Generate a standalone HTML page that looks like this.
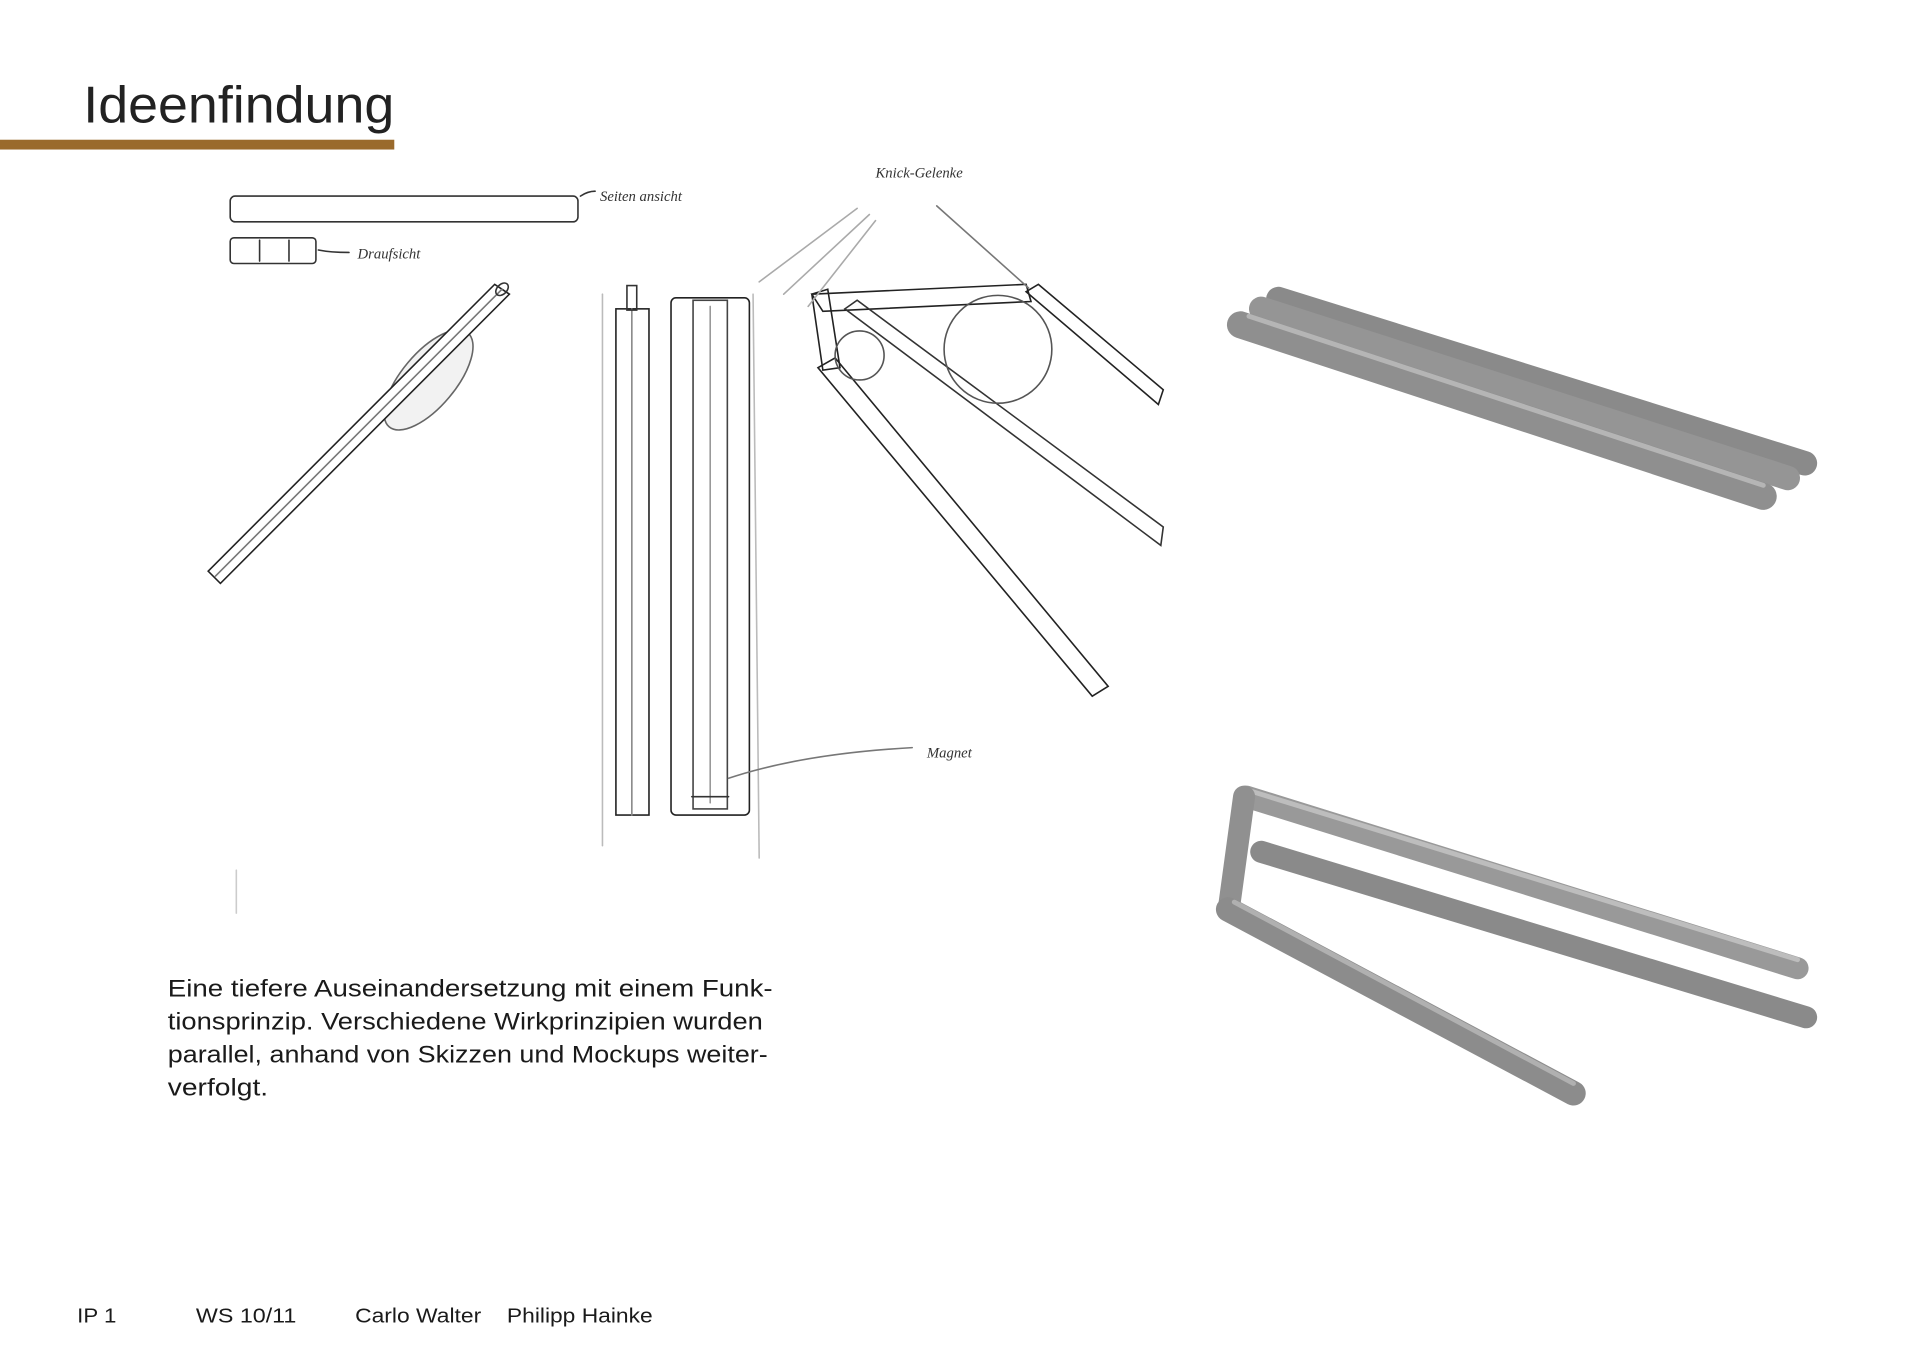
<!DOCTYPE html>
<html><head><meta charset="utf-8"><style>
html,body{margin:0;padding:0;background:#fff;width:1920px;height:1358px;overflow:hidden}
svg{display:block}
</style></head><body>
<svg width="1920" height="1358" viewBox="0 0 1568 1108" preserveAspectRatio="none" xmlns="http://www.w3.org/2000/svg">
<rect width="1568" height="1108" fill="#fff"/>
<text x="68" y="100" font-family="Liberation Sans, sans-serif" font-size="42" fill="#222" textLength="254" lengthAdjust="spacingAndGlyphs">Ideenfindung</text>
<rect x="0" y="114" width="322" height="8" fill="#9a6a2c"/>
<g fill="none" stroke="#333" stroke-width="1.3" stroke-linecap="round">
<rect x="188" y="160" width="284" height="21" rx="4"/>
<rect x="188" y="194" width="70" height="21" rx="3"/>
<line x1="212" y1="196" x2="212" y2="213"/><line x1="236" y1="196" x2="236" y2="213"/>
<path d="M474 160 q6 -4 12 -4"/>
<path d="M260 204 q10 2 25 2"/>
<ellipse cx="350" cy="310" rx="22" ry="50" transform="rotate(40 350 310)" fill="#f2f2f2" stroke="#666"/>
<polygon points="170,466 404,232 416,240 180,476" fill="#fff" stroke="#222"/>
<line x1="176" y1="470" x2="410" y2="236" stroke="#777"/>
<ellipse cx="410" cy="236" rx="6" ry="4" transform="rotate(-45 410 236)"/>
<rect x="503" y="252" width="27" height="413" stroke="#222"/>
<line x1="516" y1="252" x2="516" y2="665" stroke="#888"/>
<rect x="512" y="233" width="8" height="20"/>
<rect x="548" y="243" width="64" height="422" rx="4" stroke="#222"/>
<rect x="566" y="245" width="28" height="415" stroke="#444"/>
<line x1="580" y1="250" x2="580" y2="655" stroke="#999"/>
<line x1="565" y1="650" x2="595" y2="650"/>
<line x1="492" y1="240" x2="492" y2="690" stroke="#bbb"/>
<line x1="615" y1="240" x2="620" y2="700" stroke="#bbb"/>
<polygon points="663,240 838,232 842,246 672,254" stroke="#222"/>
<polygon points="663,240 676,236 686,300 672,302" stroke="#222"/>
<polygon points="668,300 682,292 905,560 892,568" stroke="#222"/>
<polygon points="838,238 848,232 950,318 946,330" stroke="#222"/>
<polygon points="690,252 700,245 950,430 948,445" stroke="#333"/>
<circle cx="815" cy="285" r="44" stroke="#555"/>
<circle cx="702" cy="290" r="20" stroke="#555"/>
<path d="M620 230 L700 170 M640 240 L710 175 M660 250 L715 180" stroke="#aaa"/>
<path d="M765 168 L840 235" stroke="#777"/>
<path d="M595 635 q60 -20 150 -25" stroke="#777"/>
<line x1="193" y1="710" x2="193" y2="745" stroke="#ccc"/>
</g>
<g font-family="Liberation Serif, serif" font-style="italic" font-size="12" fill="#333">
<text x="490" y="164">Seiten ansicht</text>
<text x="292" y="211">Draufsicht</text>
<text x="715" y="145">Knick-Gelenke</text>
<text x="757" y="618">Magnet</text>
</g>
<g font-family="Liberation Sans, sans-serif" font-size="19.5" fill="#1a1a1a">
<text x="137" y="813" textLength="494" lengthAdjust="spacingAndGlyphs">Eine tiefere Auseinandersetzung mit einem Funk-</text>
<text x="137" y="840" textLength="486" lengthAdjust="spacingAndGlyphs">tionsprinzip. Verschiedene Wirkprinzipien wurden</text>
<text x="137" y="867" textLength="490" lengthAdjust="spacingAndGlyphs">parallel, anhand von Skizzen und Mockups weiter-</text>
<text x="137" y="894" textLength="82" lengthAdjust="spacingAndGlyphs">verfolgt.</text>
</g>
<g stroke-linecap="round" fill="none">
<line x1="1044" y1="244" x2="1474" y2="378" stroke="#8a8a8a" stroke-width="20"/>
<line x1="1030" y1="252" x2="1460" y2="390" stroke="#959595" stroke-width="20"/>
<line x1="1013" y1="265" x2="1440" y2="405" stroke="#8f8f8f" stroke-width="22"/>
<line x1="1020" y1="258" x2="1440" y2="396" stroke="#b5b5b5" stroke-width="4"/>
<line x1="1018" y1="650" x2="1468" y2="790" stroke="#999" stroke-width="18"/>
<line x1="1020" y1="645" x2="1468" y2="783" stroke="#bdbdbd" stroke-width="4"/>
<line x1="1030" y1="695" x2="1475" y2="830" stroke="#8a8a8a" stroke-width="18"/>
<line x1="1016" y1="650" x2="1004" y2="738" stroke="#909090" stroke-width="18"/>
<line x1="1003" y1="742" x2="1285" y2="892" stroke="#8c8c8c" stroke-width="20"/>
<line x1="1008" y1="736" x2="1285" y2="884" stroke="#b0b0b0" stroke-width="4"/>
</g>
<g font-family="Liberation Sans, sans-serif" font-size="16.5" fill="#1a1a1a">
<text x="63" y="1079" textLength="32" lengthAdjust="spacingAndGlyphs">IP 1</text>
<text x="160" y="1079" textLength="82" lengthAdjust="spacingAndGlyphs">WS 10/11</text>
<text x="290" y="1079" textLength="103" lengthAdjust="spacingAndGlyphs">Carlo Walter</text>
<text x="414" y="1079" textLength="119" lengthAdjust="spacingAndGlyphs">Philipp Hainke</text>
</g>
</svg>
</body></html>
